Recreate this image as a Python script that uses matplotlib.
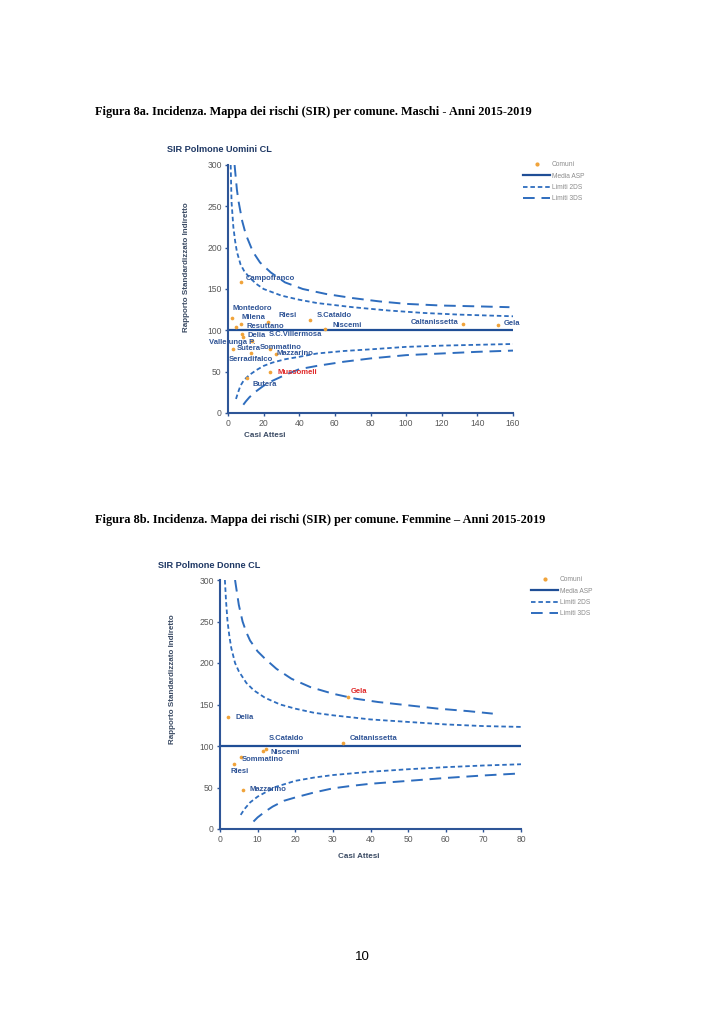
import matplotlib
matplotlib.use('Agg')
import matplotlib.pyplot as plt
from matplotlib.lines import Line2D

# ---- Figura 8a: Maschi ----
comuni_m = ['Campofranco', 'Montedoro', 'Milena', 'Resuttano', 'Riesi', 'S.Cataldo',
            'Niscemi', 'Delia', 'S.C.Villermosa', 'Vallelunga P.', 'Sutera', 'Sommatino',
            'Serradifalco', 'Mazzarino', 'Mussomeli', 'Butera', 'Caltanissetta', 'Gela']
attesi_m = [7.1, 2.4, 7.5, 4.7, 22.7, 46.0, 54.3, 7.6, 8.2, 13.5, 2.6, 23.6,
            12.8, 27.0, 23.6, 10.9, 132.0, 151.5]
sir_m = [158, 115, 108, 104, 110, 112, 102, 95, 92, 87, 77, 77,
         73, 71, 49, 42, 108, 106]

up2_e_m = [1.5, 2, 3, 4, 5, 7, 9, 12, 16, 20, 30, 40, 50, 70, 90, 110, 130, 160]
up2_sir_m = [300, 255, 225, 208, 195, 180, 172, 164, 156, 150, 142, 137, 133, 128, 124, 121, 119, 117]
up3_e_m = [3.7, 5, 6, 8, 10, 14, 18, 24, 32, 42, 55, 70, 85, 100, 120, 140, 158]
up3_sir_m = [300, 270, 255, 232, 216, 195, 182, 170, 158, 150, 144, 139, 135, 132, 130, 129, 128]
lo2_e_m = [4.5, 5.5, 7, 9, 12, 16, 20, 25, 32, 40, 50, 65, 80, 100, 120, 140, 160]
lo2_sir_m = [17, 24, 33, 40, 46, 52, 57, 61, 65, 68, 72, 75, 77, 80, 81.5, 82.5, 83.5]
lo3_e_m = [8.6, 10, 12, 15, 20, 25, 32, 40, 50, 65, 80, 100, 120, 140, 160]
lo3_sir_m = [10, 14, 19, 25, 33, 39, 46, 53, 57, 62, 66, 70, 72, 74, 75.5]

# ---- Figura 8b: Femmine ----
comuni_f = ['Gela', 'Delia', 'S.Cataldo', 'Niscemi', 'Caltanissetta', 'Sommatino',
            'Riesi', 'Mazzarino']
attesi_f = [34.1, 2.2, 12.2, 11.4, 32.6, 5.5, 3.7, 6.2]
sir_f = [158.8, 134.5, 96.5, 94, 104, 87, 78, 47]

up2_e_f = [1.3, 1.6, 2, 2.5, 3, 4, 5, 7, 9, 12, 16, 20, 25, 30, 40, 50, 60, 70, 80]
up2_sir_f = [300, 275, 250, 232, 218, 200, 190, 176, 167, 158, 150, 145, 140, 137, 132, 129, 126, 124, 123]
up3_e_f = [4, 5, 6, 7, 8, 10, 12, 15, 19, 24, 30, 36, 42, 50, 58, 66, 72.5]
up3_sir_f = [300, 270, 250, 237, 227, 214, 205, 193, 181, 171, 163, 157, 153, 149, 145, 142, 139]
lo2_e_f = [5.5, 6.5, 8, 10, 12, 15, 20, 25, 30, 40, 50, 60, 70, 80]
lo2_sir_f = [17, 24, 32, 39, 44, 51, 58, 62, 65, 69, 72, 74.5, 76.5, 78]
lo3_e_f = [8.9, 10, 12, 14, 17, 20, 25, 30, 35, 40, 50, 60, 70, 80]
lo3_sir_f = [9, 14, 21, 27, 34, 38, 44, 49, 52, 54.5, 58, 61.5, 64.5, 67]

CURVE = '#2E6DBE'
MEAN = '#1F4E96'
SPINE = '#2E5597'
DOT = '#F0A33A'
LAB = '#2F5496'
RED = '#E02828'
TICK = '#595959'

plt.rcParams['font.family'] = ['Liberation Sans', 'DejaVu Sans']

fig = plt.figure(figsize=(7.24, 10.24), dpi=100)

# label offsets in pixels (dx, dy) and alignment
offs_m = {
    'Campofranco': (5, 4, 'left'), 'Montedoro': (0, 9, 'left'), 'Milena': (0, 6, 'left'),
    'Resuttano': (10, 1, 'left'), 'Riesi': (10, 7, 'left'), 'S.Cataldo': (7, 5, 'left'),
    'Niscemi': (8, 3, 'left'), 'Delia': (6, -1, 'left'), 'S.C.Villermosa': (26, 2, 'left'),
    'Vallelunga P.': (3, -1, 'right'), 'Sutera': (4, 1, 'left'), 'Sommatino': (-10, 2, 'left'),
    'Serradifalco': (-22, -7, 'left'), 'Mazzarino': (0, 1, 'left'), 'Mussomeli': (7, 0, 'left'),
    'Butera': (5, -6, 'left'), 'Caltanissetta': (-5, 1, 'right'), 'Gela': (6, 2, 'left'),
}
offs_f = {
    'Gela': (2, 6, 'left'), 'Delia': (7, 0, 'left'), 'S.Cataldo': (3, 10, 'left'),
    'Niscemi': (8, -2, 'left'), 'Caltanissetta': (7, 4, 'left'), 'Sommatino': (1, -3, 'left'),
    'Riesi': (-3, -7, 'left'), 'Mazzarino': (6, 0, 'left'),
}


def draw_panel(rect, xmax, xstep, names, att, sir, curves, offs, red_name,
               title, title_xy, xlab_xy, ylab_xy, leg_xy):
    ax = fig.add_axes(rect)
    up2, up3, lo2, lo3 = curves
    ax.plot([0, xmax], [100, 100], color=MEAN, lw=1.6, zorder=2)
    ax.plot(up2[0], up2[1], color=CURVE, lw=1.3, dashes=(2.5, 1.6), zorder=2)
    ax.plot(lo2[0], lo2[1], color=CURVE, lw=1.3, dashes=(2.5, 1.6), zorder=2)
    ax.plot(up3[0], up3[1], color=CURVE, lw=1.4, dashes=(6, 3.5), zorder=2)
    ax.plot(lo3[0], lo3[1], color=CURVE, lw=1.4, dashes=(6, 3.5), zorder=2)
    ax.scatter(att, sir, s=7, color=DOT, marker='o', zorder=3, linewidths=0)
    for n, x, y in zip(names, att, sir):
        dx, dy, ha = offs[n]
        ax.annotate(n, (x, y), xytext=(dx, dy), textcoords='offset pixels',
                    ha=ha, va='center', fontsize=5.5, fontweight='bold',
                    color=RED if n == red_name else LAB, zorder=4,
                    annotation_clip=False)
    ax.set_xlim(0, xmax)
    ax.set_ylim(0, 300)
    ax.set_xticks(range(0, xmax + 1, xstep))
    ax.set_yticks(range(0, 301, 50))
    for s in ['top', 'right']:
        ax.spines[s].set_visible(False)
    for s in ['left', 'bottom']:
        ax.spines[s].set_color(SPINE)
        ax.spines[s].set_linewidth(1.5)
    ax.tick_params(direction='out', length=2.5, width=1, color=SPINE,
                   labelsize=6.2, labelcolor=TICK, pad=2)
    ax.set_xlabel('Casi Attesi', fontsize=5.8, fontweight='bold', color='#3A4A63')
    ax.xaxis.set_label_coords(*xlab_xy)
    ax.set_ylabel('Rapporto Standardizzato Indiretto', fontsize=5.8,
                  fontweight='bold', color='#3A4A63')
    ax.yaxis.set_label_coords(*ylab_xy)
    fig.text(title_xy[0], title_xy[1], title, fontsize=6.6, fontweight='bold',
             color='#1F3864', ha='left', va='center')
    handles = [
        Line2D([], [], ls='none', marker='o', ms=2, color=DOT),
        Line2D([], [], color=MEAN, lw=1.6),
        Line2D([], [], color=CURVE, lw=1.3, dashes=(2.5, 1.6)),
        Line2D([], [], color=CURVE, lw=1.4, dashes=(6, 3.5)),
    ]
    fig.legend(handles, ['Comuni', 'Media ASP', 'Limiti 2DS', 'Limiti 3DS'],
               loc='upper left', bbox_to_anchor=leg_xy, frameon=False,
               fontsize=4.8, labelcolor='#8C8C8C', handlelength=4.0,
               handletextpad=0.3, labelspacing=0.65, borderpad=0)
    return ax


W, H = 724, 1024
draw_panel([228 / W, 1 - 413 / H, 285 / W, 248 / H], 160, 20,
           comuni_m, attesi_m, sir_m,
           [(up2_e_m, up2_sir_m), (up3_e_m, up3_sir_m), (lo2_e_m, lo2_sir_m), (lo3_e_m, lo3_sir_m)],
           offs_m, 'Mussomeli', 'SIR Polmone Uomini CL', (167 / W, 1 - 149 / H),
           (0.13, -0.075), (-0.135, 0.59), (520 / W, 1 - 158 / H))

draw_panel([220 / W, 1 - 829 / H, 301 / W, 249 / H], 80, 10,
           comuni_f, attesi_f, sir_f,
           [(up2_e_f, up2_sir_f), (up3_e_f, up3_sir_f), (lo2_e_f, lo2_sir_f), (lo3_e_f, lo3_sir_f)],
           offs_f, 'Gela', 'SIR Polmone Donne CL', (158 / W, 1 - 565 / H),
           (0.46, -0.097), (-0.145, 0.6), (528 / W, 1 - 573 / H))

fig.text(95 / W, 1 - 112 / H,
         'Figura 8a. Incidenza. Mappa dei rischi (SIR) per comune. Maschi - Anni 2015-2019',
         family='Liberation Serif', fontweight='bold', fontsize=8.8, va='center')
fig.text(95 / W, 1 - 520 / H,
         'Figura 8b. Incidenza. Mappa dei rischi (SIR) per comune. Femmine \u2013 Anni 2015-2019',
         family='Liberation Serif', fontweight='bold', fontsize=8.8, va='center')
fig.text(362 / W, 1 - 957 / H, '10', fontsize=9.5, ha='center', va='center')

fig.savefig('out.png', dpi=100)
